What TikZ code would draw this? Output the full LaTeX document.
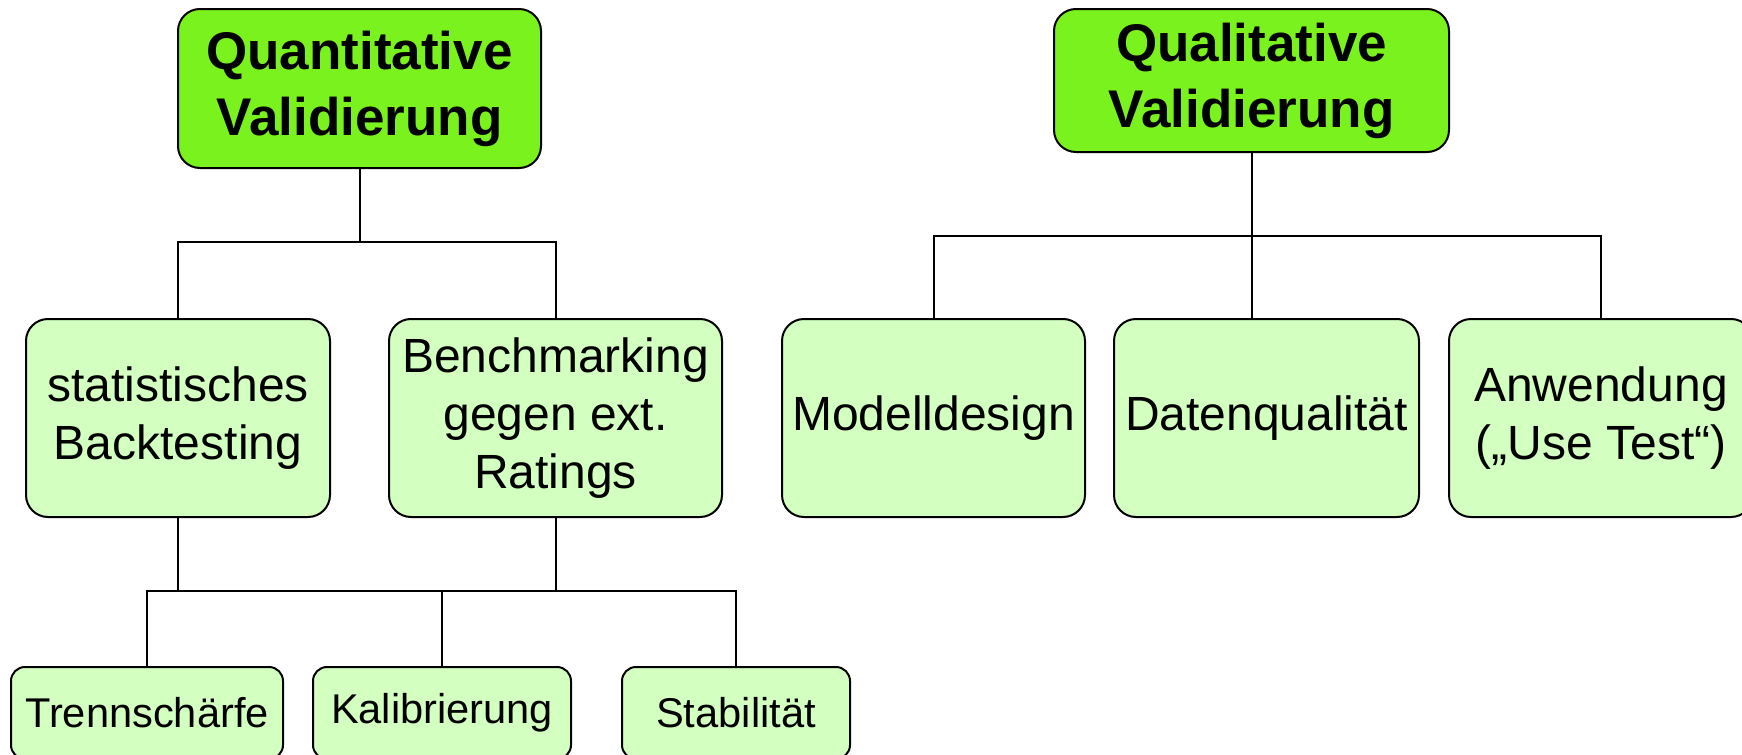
\documentclass[tikz,border=0pt]{standalone}
\usepackage{fontspec}
\setmainfont{Liberation Sans}
\definecolor{headgreen}{RGB}{122, 242, 30}
\definecolor{leafgreen}{RGB}{211, 255, 192}
\usetikzlibrary{positioning, calc}

\begin{document}
\begin{tikzpicture}[
  x=0.5pt, y=-0.5pt,
  line width=1pt,
  headbox/.style={draw, rounded corners=11pt, align=center, fill=headgreen, inner sep=0pt,
    font=\bfseries\fontsize{26.5}{33}\selectfont},
  cbox/.style={draw, rounded corners=11pt, align=center, fill=leafgreen, inner sep=0pt,
    minimum height=99pt, font=\fontsize{24}{29}\selectfont},
  sbox/.style={draw, rounded corners=7pt, align=center, fill=leafgreen, inner sep=0pt,
    minimum height=46pt, font=\fontsize{20.8}{24}\selectfont}
]
  \useasboundingbox (0,0) rectangle (1742,755);
  \clip (0,0) rectangle (1742,755);

  \node[headbox, minimum width=181.5pt, minimum height=79.5pt] (quant) at (359.5, 88.5) {Quantitative\\Validierung};
  \node[headbox, minimum width=197.5pt, minimum height=71.5pt] (qual) at (1251.5, 80.5) {Qualitative\\Validierung};

  \node[cbox, minimum width=152pt] (stat) at (178, 418) {statistisches\\Backtesting};
  \node[cbox, minimum width=166.5pt] (bench) at (555.5, 418) {Benchmarking\\gegen ext.\\Ratings};
  \node[cbox, minimum width=151.5pt] (modell) at (933.5, 418) {Modelldesign};
  \node[cbox, minimum width=152.5pt] (daten) at (1266.5, 418) {Datenqualität};
  \node[cbox, minimum width=152pt] (anw) at (1601, 418) {Anwendung\\(„Use Test“)};

  \node[sbox, minimum width=136pt] (trenn) at (147, 713) {Trennschärfe};
  \node[sbox, minimum width=129pt] (kalib) at (442, 713) {Kalibrierung};
  \node[sbox, minimum width=114pt] (stab) at (736, 713) {Stabilität};

  \coordinate (qsplit) at (359.5, 242);
  \coordinate (lsplit) at (1251.5, 236);
  \coordinate (bsplit) at (442, 591);

  \draw (quant.south) -- (qsplit);
  \draw (stat.north) |- (qsplit) -| (bench.north);

  \draw (qual.south) -- (lsplit) -- (lsplit |- daten.north);
  \draw (modell.north) |- (lsplit) -| (anw.north);

  \draw (stat.south) -- (stat.south |- bsplit);
  \draw (bench.south) -- (bench.south |- bsplit);
  \draw (trenn.north) |- (bsplit) -| (stab.north);
  \draw (kalib.north) -- (bsplit);
\end{tikzpicture}
\end{document}
